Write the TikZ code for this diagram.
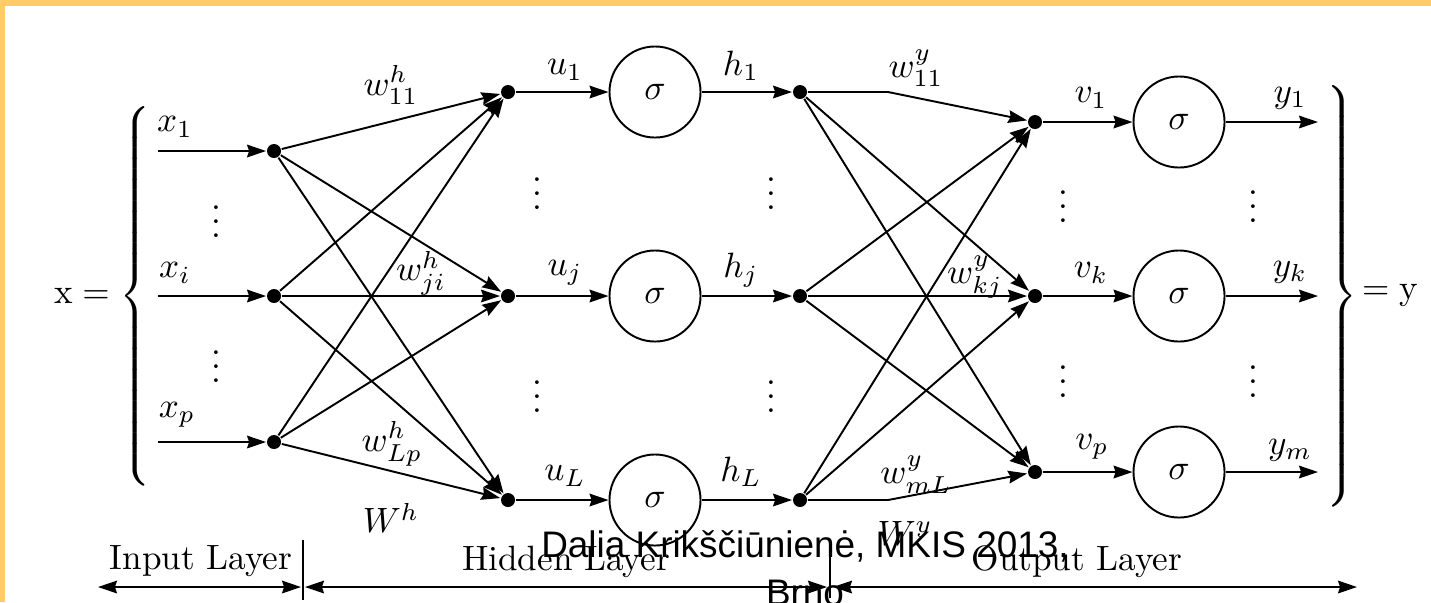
\documentclass[tikz,border=0pt]{standalone}
\usepackage{fontspec}
\usepackage{amsmath}
\definecolor{slideorange}{HTML}{FFCC66}
\newfontfamily\creditfont{Liberation Sans}
\usetikzlibrary{arrows.meta, positioning}

\begin{document}
\begin{tikzpicture}[x=0.01cm, y=-0.01cm, line width=0.55pt,
  dot/.style={circle, fill, inner sep=0pt, minimum size=0.14cm},
  neuron/.style={circle, draw, minimum size=0.91cm, inner sep=0pt},
  vdot/.style={font=\boldmath, inner sep=0pt},
  conn/.style={-{Stealth[length=5.4pt, width=3.6pt, inset=0.6pt]}},
  span/.style={{Stealth[length=5.4pt, width=3.6pt, inset=0.6pt]}-{Stealth[length=5.4pt, width=3.6pt, inset=0.6pt]}}]
% Slide frame strips
\fill[slideorange] (0,0) rectangle (1431,6);
\fill[slideorange] (0,0) rectangle (5,602);
\useasboundingbox (0,0) rectangle (1431,602);

% Input layer
\node[dot] (in1) at (274,151) {};
\node[dot] (ini) at (274,296) {};
\node[dot] (inp) at (274,442) {};
\coordinate (x1start) at (158,151);
\coordinate (xistart) at (158,296);
\coordinate (xpstart) at (158,442);
\draw[conn] (x1start) -- (in1);
\draw[conn] (xistart) -- (ini);
\draw[conn] (xpstart) -- (inp);
\node at (175,127) {$x_1$};
\node at (175,273) {$x_i$};
\node at (177,415) {$x_p$};
\node[vdot] at (216,211) {$\vdots$};
\node[vdot] at (216,356) {$\vdots$};

% Input vector brace
\node (xeq) at (82,296) {$\mathrm{x} =$};
\node (lbrace) at (137,296) {$\left\{\vcenter{\hbox{\rule{0pt}{3.82cm}}}\right.$};

% Hidden layer
\node[dot] (u1) at (508,92) {};
\node[dot] (uj) at (508,296) {};
\node[dot] (uL) at (508,500) {};
\node[neuron] (sig1) at (655,92) {$\sigma$};
\node[neuron] (sigj) at (655,296) {$\sigma$};
\node[neuron] (sigL) at (655,500) {$\sigma$};
\node[dot] (h1) at (800,92) {};
\node[dot] (hj) at (800,296) {};
\node[dot] (hL) at (800,500) {};
\draw[conn] (u1) -- (sig1);
\draw[conn] (uj) -- (sigj);
\draw[conn] (uL) -- (sigL);
\draw[conn] (sig1) -- (h1);
\draw[conn] (sigj) -- (hj);
\draw[conn] (sigL) -- (hL);
\node at (565,70) {$u_1$};
\node at (565,273) {$u_j$};
\node at (565,476) {$u_L$};
\node at (741,66) {$h_1$};
\node at (741,270) {$h_j$};
\node at (741,472) {$h_L$};
\node[vdot] at (537,183) {$\vdots$};
\node[vdot] at (537,386) {$\vdots$};
\node[vdot] at (771,183) {$\vdots$};
\node[vdot] at (771,386) {$\vdots$};

% Input to hidden weights
\draw[conn] (in1) -- (u1);
\draw[conn] (in1) -- (uj);
\draw[conn] (in1) -- (uL);
\draw[conn] (ini) -- (u1);
\draw[conn] (ini) -- (uj);
\draw[conn] (ini) -- (uL);
\draw[conn] (inp) -- (u1);
\draw[conn] (inp) -- (uj);
\draw[conn] (inp) -- (uL);
\node at (391,85) {$w^h_{11}$};
\node at (421,273) {$w^h_{ji}$};
\node at (392,444) {$w^h_{Lp}$};
\node at (391,518) {$W^h$};

% Output layer
\node[dot] (v1) at (1035,122) {};
\node[dot] (vk) at (1035,296) {};
\node[dot] (vp) at (1035,472) {};
\node[neuron] (osig1) at (1179,122) {$\sigma$};
\node[neuron] (osigk) at (1179,296) {$\sigma$};
\node[neuron] (osigp) at (1179,472) {$\sigma$};
\coordinate (y1end) at (1318,122);
\coordinate (ykend) at (1318,296);
\coordinate (ymend) at (1318,472);
\draw[conn] (v1) -- (osig1);
\draw[conn] (vk) -- (osigk);
\draw[conn] (vp) -- (osigp);
\draw[conn] (osig1) -- (y1end);
\draw[conn] (osigk) -- (ykend);
\draw[conn] (osigp) -- (ymend);
\node at (1091,98) {$v_1$};
\node at (1091,273) {$v_k$};
\node at (1092,447) {$v_p$};
\node at (1290,98) {$y_1$};
\node at (1290,272) {$y_k$};
\node at (1290,450) {$y_m$};
\node[vdot] at (1063,196) {$\vdots$};
\node[vdot] at (1063,371) {$\vdots$};
\node[vdot] at (1253,196) {$\vdots$};
\node[vdot] at (1253,371) {$\vdots$};

% Hidden to output weights
\draw[conn] (h1) -- ++(88,0) -- (v1);
\draw[conn] (h1) -- (vk);
\draw[conn] (h1) -- (vp);
\draw[conn] (hj) -- (v1);
\draw[conn] (hj) -- (vk);
\draw[conn] (hj) -- (vp);
\draw[conn] (hL) -- (v1);
\draw[conn] (hL) -- (vk);
\draw[conn] (hL) -- ++(88,0) -- (vp);
\node at (916,68) {$w^y_{11}$};
\node at (975,277) {$w^y_{kj}$};
\node at (916,475) {$w^y_{mL}$};
\node at (905,533) {$W^y$};

% Output vector brace
\node (rbrace) at (1340,296) {$\left.\vcenter{\hbox{\rule{0pt}{4.3cm}}}\right\}$};
\node (yeq) at (1390,296) {$= \mathrm{y}$};

% Layer spans
\coordinate (spanL) at (98,587);
\coordinate (span1a) at (301,587);
\coordinate (span1b) at (305,587);
\coordinate (span2a) at (827,587);
\coordinate (span2b) at (833,587);
\coordinate (spanR) at (1357,587);
\draw[span] (spanL) -- (span1a);
\draw[span] (span1b) -- (span2a);
\draw[span] (span2b) -- (spanR);
\draw (303,540) -- (303,600);
\draw (830,543) -- (830,598);
\node[anchor=base] at (201,569) {Input Layer};
\node[anchor=base] at (566,570) {Hidden Layer};
\node[anchor=base] at (1077,570) {Output Layer};

% Slide footer
\node[font={\creditfont\fontsize{10.5}{13.5}\selectfont}, align=center, anchor=north, inner sep=0pt] (credit) at (805,530) {Dalia Krikščiūnienė, MKIS 2013,\\Brno};
\end{tikzpicture}
\end{document}
